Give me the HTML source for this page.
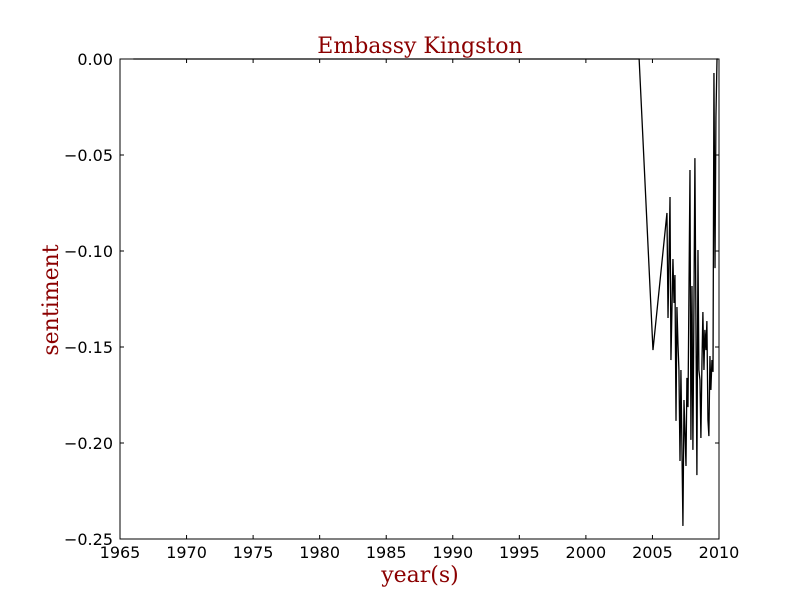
<!DOCTYPE html>
<html><head><meta charset="utf-8"><style>
body{margin:0;background:#fff}
svg text{font-family:"DejaVu Sans","Liberation Sans",sans-serif}
svg text.serif{font-family:"DejaVu Serif","Liberation Serif",serif}
</style></head><body>
<svg id="chart" width="800" height="600" xmlns="http://www.w3.org/2000/svg">
<rect width="800" height="600" fill="#fff"/>
<text class="serif" x="420" y="53" text-anchor="middle" font-size="22" fill="#8b0000">Embassy Kingston</text>
<text class="serif" x="420" y="582" text-anchor="middle" font-size="22" fill="#8b0000">year(s)</text>
<text class="serif" transform="translate(58,300) rotate(-90)" text-anchor="middle" font-size="22" fill="#8b0000">sentiment</text>
<g id="axes"></g>
<rect x="120" y="59" width="599" height="480" fill="none" stroke="#000" stroke-width="1"/>
</svg>
<script>
const years=[1966,2004,2005.04,2006.09,2006.17,2006.32,2006.39,2006.54,2006.62,2006.69,2006.77,2006.84,2006.92,2006.99,2007.07,2007.14,2007.29,2007.37,2007.52,2007.59,2007.67,2007.82,2007.89,2007.97,2008.04,2008.12,2008.19,2008.34,2008.42,2008.49,2008.57,2008.64,2008.72,2008.79,2008.87,2008.94,2009.02,2009.09,2009.17,2009.24,2009.32,2009.39,2009.47,2009.55,2009.62,2009.70,2009.77,2009.85,2009.92];
const sentiment=[0,0,-0.1516,-0.0802,-0.1349,-0.0719,-0.1568,-0.1042,-0.1271,-0.1125,-0.1885,-0.1292,-0.149,-0.162,-0.2094,-0.162,-0.2432,-0.1776,-0.212,-0.1661,-0.1813,-0.0578,-0.1984,-0.1182,-0.2036,-0.1255,-0.0516,-0.2167,-0.0995,-0.162,-0.1672,-0.1974,-0.1578,-0.1318,-0.162,-0.1411,-0.1516,-0.1365,-0.188,-0.1964,-0.1547,-0.1724,-0.1568,-0.163,-0.0073,-0.1089,-0.0302,0,0];
const xTicks=[1965,1970,1975,1980,1985,1990,1995,2000,2005,2010];
const yTicks=[0,-0.05,-0.1,-0.15,-0.2,-0.25];
const yLabels=["0.00","\u22120.05","\u22120.10","\u22120.15","\u22120.20","\u22120.25"];
const X=v=>120+(v-1965)/45*599, Y=v=>59+(-v)/0.25*480;
const ns="http://www.w3.org/2000/svg", g=document.getElementById('axes');
function mk(t,a){const e=document.createElementNS(ns,t);for(const k in a)e.setAttribute(k,a[k]);g.appendChild(e);return e;}
xTicks.forEach(t=>{const x=X(t);
 let l=mk('line',{x1:x,x2:x,y1:539,y2:535,stroke:'#000'});
 
 
 l=mk('line',{x1:x,x2:x,y1:59,y2:63,stroke:'#000'});
 
 
 const tx=mk('text',{x:x,y:558,'text-anchor':'middle','font-size':16});tx.textContent=t;
 
 
});
yTicks.forEach((t,i)=>{const y=Y(t);
 let l=mk('line',{x1:120,x2:124,y1:y,y2:y,stroke:'#000'});
 
 
 l=mk('line',{x1:719,x2:715,y1:y,y2:y,stroke:'#000'});
 
 
 const tx=mk('text',{x:113,y:y+6,'text-anchor':'end','font-size':16});tx.textContent=yLabels[i];
 
 
});
const p=mk('polyline',{points:years.map((v,i)=>X(v)+','+Y(sentiment[i])).join(' '),fill:'none',stroke:'#000','stroke-width':1.3});


</script>
</body></html>
